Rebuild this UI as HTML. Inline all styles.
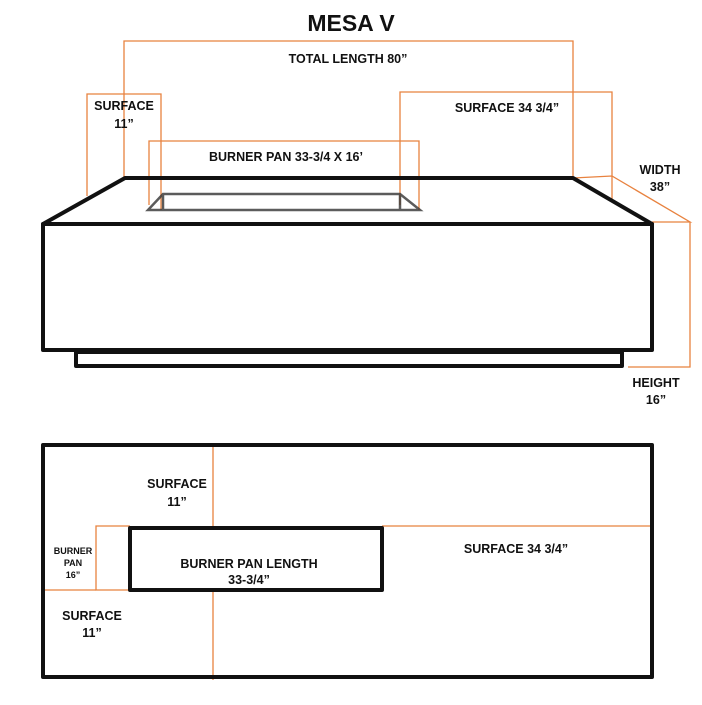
<!DOCTYPE html><html><head><style>body{margin:0;background:#fff}text{font-family:"Liberation Sans",sans-serif;font-weight:bold;fill:#111}</style></head><body>
<svg width="702" height="700" viewBox="0 0 702 700" xmlns="http://www.w3.org/2000/svg">
<text x="351" y="31" font-size="23" text-anchor="middle">MESA V</text>
<g stroke="#e8823f" stroke-width="1.3" fill="none">
<polyline points="124,178 124,41 573,41 573,178"/>
<polyline points="87,196 87,94 161,94 161,210"/>
<polyline points="149,205 149,141 419,141 419,210"/>
<polyline points="400,205 400,92 612,92 612,200"/>
<polyline points="573,178 612,176 690,222 652,222"/>
<polyline points="690,222 690,367 628,367"/>
<line x1="213" y1="445" x2="213" y2="528"/>
<line x1="213" y1="590" x2="213" y2="680"/>
<line x1="382" y1="526" x2="652" y2="526"/>
<polyline points="130,526 96,526 96,590 130,590"/>
<line x1="43" y1="590" x2="96" y2="590"/>
</g>
<g stroke="#111" stroke-width="4" fill="none" stroke-linejoin="round">
<polygon points="125,178 573,178 652,224 43,224"/>
<rect x="43" y="224" width="609" height="126"/>
<rect x="76" y="352" width="546" height="14"/>
<rect x="43" y="445" width="609" height="232"/>
<rect x="130" y="528" width="252" height="62"/>
</g>
<g stroke="#333" stroke-width="2.5" fill="none" opacity="0.8">
<polygon points="163,194 400,194 420,210 148,210"/>
<line x1="163" y1="194" x2="163" y2="210"/><line x1="400" y1="194" x2="400" y2="210"/>
</g>
<g font-size="12.5" text-anchor="middle">
<text x="348" y="63">TOTAL LENGTH 80”</text>
<text x="124" y="110">SURFACE</text><text x="124" y="128">11”</text>
<text x="286" y="161">BURNER PAN 33-3/4 X 16’</text>
<text x="507" y="112">SURFACE 34 3/4”</text>
<text x="660" y="174">WIDTH</text><text x="660" y="191">38”</text>
<text x="656" y="387">HEIGHT</text><text x="656" y="404">16”</text>
<text x="177" y="488">SURFACE</text><text x="177" y="506">11”</text>
<text x="516" y="553">SURFACE 34 3/4”</text>
<text x="92" y="620">SURFACE</text><text x="92" y="637">11”</text>
<text x="249" y="568">BURNER PAN LENGTH</text><text x="249" y="584">33-3/4”</text>
<g font-size="9"><text x="73" y="554">BURNER</text><text x="73" y="566">PAN</text><text x="73" y="578">16”</text></g>
</g>
</svg></body></html>
